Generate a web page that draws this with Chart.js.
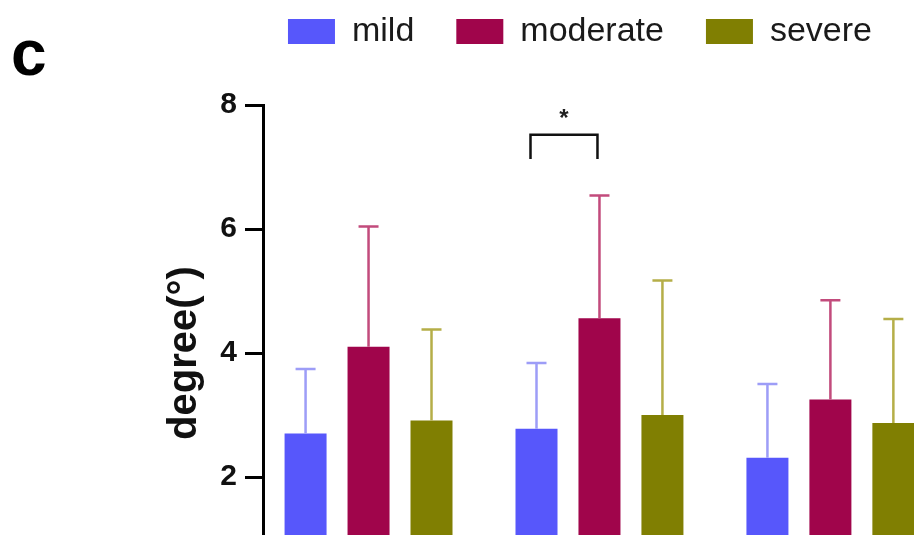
<!DOCTYPE html>
<html>
<head>
<meta charset="utf-8">
<style>
  html, body { margin: 0; padding: 0; overflow: hidden; background: #fff; }
  canvas { display: block; }
</style>
<script src="https://cdn.jsdelivr.net/npm/chart.js@4"></script>
</head>
<body>
<canvas id="chart" width="914" height="627"></canvas>
<script>
// groups along the x axis (their names are below the visible crop)
const groups = [0, 1, 2];
const seriesNames = ['mild', 'moderate', 'severe'];
const mildMean = [2.70, 2.78, 2.31];
const mildSd = [1.04, 1.06, 1.19];
const moderateMean = [4.10, 4.56, 3.25];
const moderateSd = [1.94, 1.98, 1.60];
const severeMean = [2.91, 3.00, 2.87];
const severeSd = [1.47, 2.17, 1.68];
const yTicks = [0, 2, 4, 6, 8];

const FONT = "'Liberation Sans', Arial, Helvetica, sans-serif";
const barColors = ['#5757fb', '#a0054b', '#807f02'];
const errColors = ['#9d9df7', '#c24b7c', '#b5ae48'];
const means = [mildMean, moderateMean, severeMean];
const sds = [mildSd, moderateSd, severeSd];

const datasets = seriesNames.map((name, s) => ({
  label: name,
  data: groups.map((g, i) => ({ x: g, y: means[s][i] })),
  sd: sds[s],
  backgroundColor: barColors[s],
  errColor: errColors[s],
  borderWidth: 0,
  categoryPercentage: 0.818,
  barPercentage: 0.667
}));

// upward-only error bars (mean + SD)
const errorBars = {
  id: 'errorBars',
  afterDatasetsDraw(chart) {
    const ctx = chart.ctx;
    const y = chart.scales.y;
    chart.data.datasets.forEach((ds, s) => {
      chart.getDatasetMeta(s).data.forEach((bar, i) => {
        const top = y.getPixelForValue(ds.data[i].y + ds.sd[i]);
        ctx.save();
        ctx.strokeStyle = ds.errColor;
        ctx.lineWidth = 2.5;
        ctx.beginPath();
        ctx.moveTo(bar.x, bar.y);
        ctx.lineTo(bar.x, top);
        ctx.moveTo(bar.x - 10, top);
        ctx.lineTo(bar.x + 10, top);
        ctx.stroke();
        ctx.restore();
      });
    });
  }
};

// significance bracket (mild vs moderate, second group) and panel letter
const annotations = {
  id: 'annotations',
  afterDraw(chart) {
    const ctx = chart.ctx;
    const y = chart.scales.y;
    const left = chart.getDatasetMeta(0).data[1].x - 6;
    const right = chart.getDatasetMeta(1).data[1].x - 2;
    const yLeg = y.getPixelForValue(7.13);
    const yTop = y.getPixelForValue(7.52);
    ctx.save();
    ctx.strokeStyle = '#111';
    ctx.lineWidth = 2.5;
    ctx.beginPath();
    ctx.moveTo(left, yLeg);
    ctx.lineTo(left, yTop);
    ctx.lineTo(right, yTop);
    ctx.lineTo(right, yLeg);
    ctx.stroke();
    ctx.fillStyle = '#222';
    ctx.font = 'bold 24px ' + FONT;
    ctx.textAlign = 'center';
    ctx.textBaseline = 'alphabetic';
    ctx.fillText('*', (left + right) / 2, y.getPixelForValue(7.84) + 11);
    ctx.font = 'bold 64px ' + FONT;
    ctx.textAlign = 'left';
    ctx.fillStyle = '#000';
    ctx.fillText('c', 11, 75);
    ctx.restore();
  }
};

new Chart(document.getElementById('chart'), {
  type: 'bar',
  data: { datasets },
  options: {
    responsive: false,
    animation: false,
    layout: { padding: { top: -27.5, left: 0, right: 0, bottom: 0 } },
    plugins: {
      tooltip: { enabled: false },
      legend: {
        position: 'top',
        align: 'end',
        labels: {
          boxWidth: 47,
          boxHeight: 25,
          padding: 42,
          color: '#1a1a1a',
          font: { family: FONT, size: 34 }
        }
      }
    },
    scales: {
      x: {
        type: 'linear',
        position: 'top',
        offset: false,
        min: -0.457,
        max: 2.362,
        grid: { display: false, offset: false },
        border: { display: false },
        ticks: { display: false },
        afterBuildTicks: s => { s.ticks = groups.map(v => ({ value: v })); },
        afterFit: s => { s.height = 46.5; }
      },
      y: {
        min: 0,
        max: 8,
        afterBuildTicks: s => { s.ticks = yTicks.map(v => ({ value: v })); },
        afterFit: s => { s.width = 263; },
        grid: {
          drawOnChartArea: false,
          drawTicks: true,
          tickLength: 18,
          color: '#000',
          lineWidth: 3
        },
        border: { display: true, color: '#000', width: 3 },
        ticks: {
          padding: 8,
          color: '#111',
          font: { family: FONT, size: 30, weight: 'bold' }
        },
        title: {
          display: true,
          text: 'degree(°)',
          color: '#111',
          font: { family: FONT, size: 40, weight: 'bold' },
          padding: { top: 161, bottom: 0 }
        }
      }
    }
  },
  plugins: [errorBars, annotations]
});
</script>
</body>
</html>
